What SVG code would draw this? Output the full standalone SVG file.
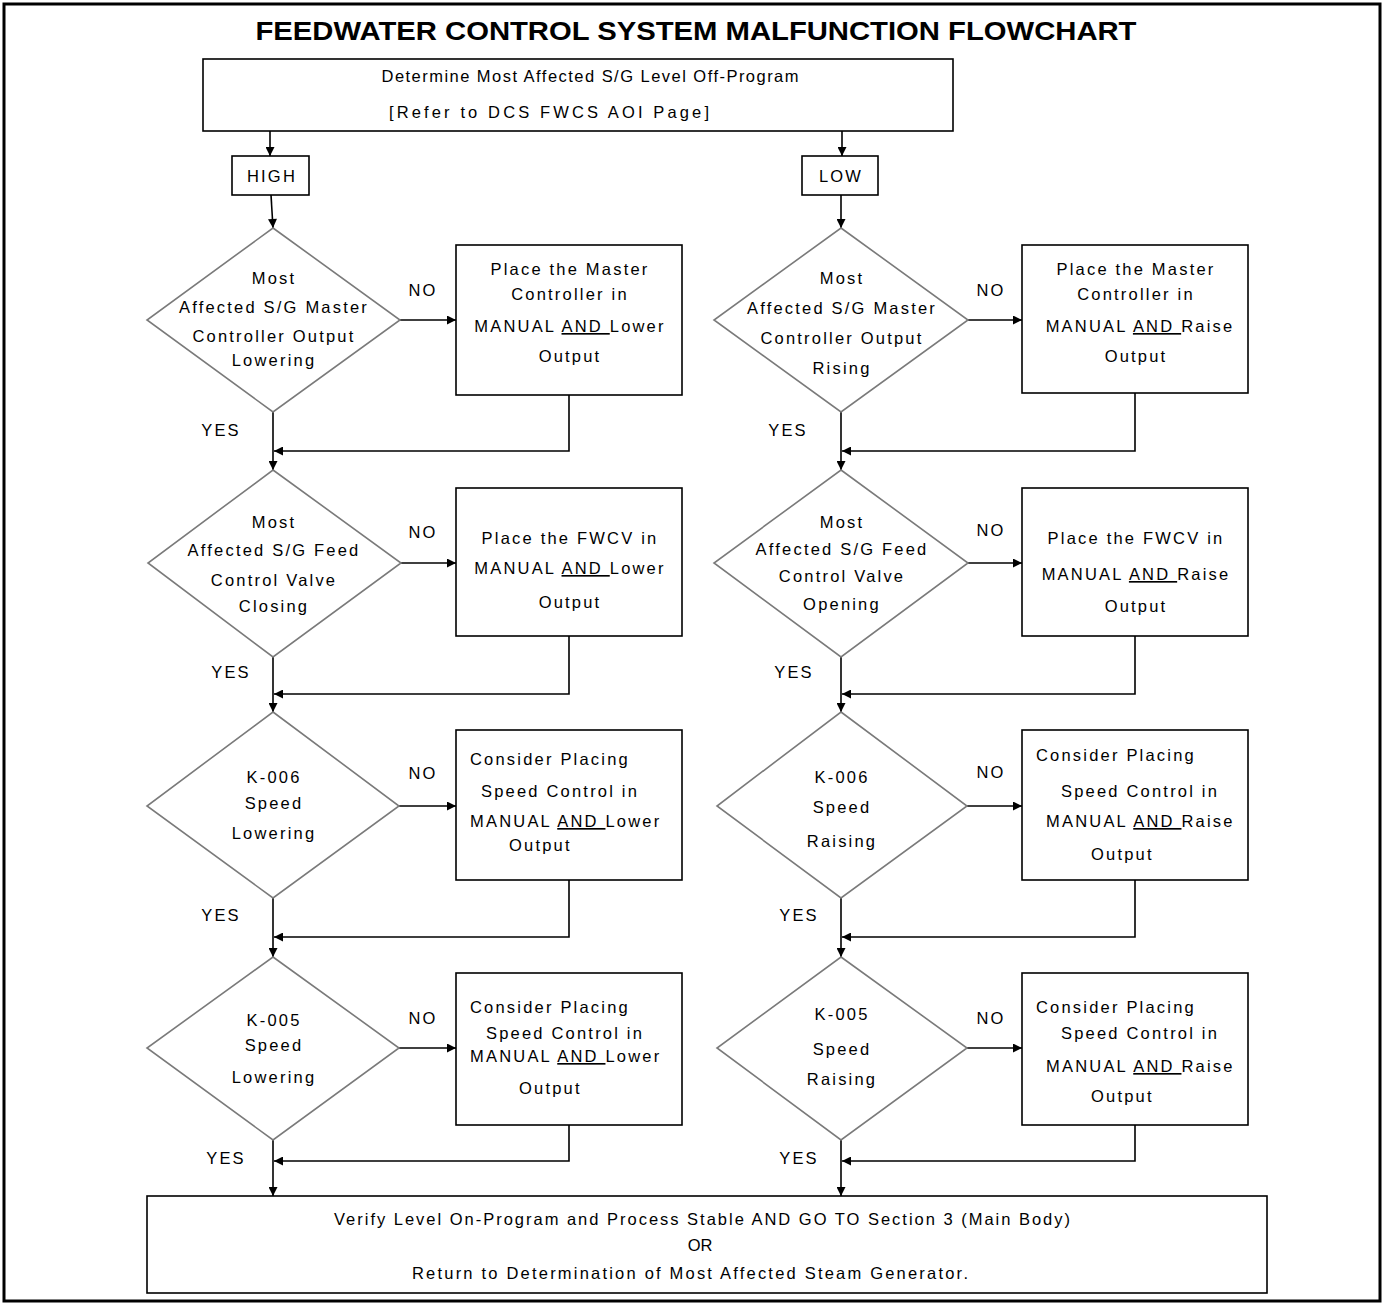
<svg xmlns="http://www.w3.org/2000/svg" width="1386" height="1306" viewBox="0 0 1386 1306">
<style>
text{font-family:"Liberation Sans",Arial,sans-serif;fill:#000}
.t{font-size:16.5px;letter-spacing:2.2px}
.c{text-anchor:middle}
.title{font-size:26px;font-weight:bold;text-anchor:middle}
.box{fill:#fff;stroke:#000;stroke-width:1.6}
.dia{fill:#fff;stroke:#7a7a7a;stroke-width:1.6}
.ln{fill:none;stroke:#000;stroke-width:1.6}
.u{text-decoration:underline}
</style>
<defs>
<marker id="ah" viewBox="0 0 10 10" refX="10" refY="5" markerWidth="10" markerHeight="9" markerUnits="userSpaceOnUse" orient="auto"><path d="M0,0 L10,5 L0,10 z" fill="#000"/></marker>
</defs>
<rect x="0" y="0" width="1386" height="1306" fill="#fff"/>
<rect x="4" y="4" width="1376" height="1297" fill="none" stroke="#000" stroke-width="3"/>
<text class="title" x="696" y="40" textLength="881" lengthAdjust="spacingAndGlyphs">FEEDWATER CONTROL SYSTEM MALFUNCTION FLOWCHART</text>

<g id="connectors">
<line class="ln" x1="270" y1="131" x2="270" y2="156" marker-end="url(#ah)"/>
<line class="ln" x1="842" y1="131" x2="842" y2="156" marker-end="url(#ah)"/>
<line class="ln" x1="271" y1="195" x2="273" y2="228" marker-end="url(#ah)" stroke="#555"/>
<line class="ln" x1="841" y1="195" x2="841" y2="228" marker-end="url(#ah)"/>
<line class="ln" x1="400" y1="320" x2="456" y2="320" marker-end="url(#ah)"/>
<line class="ln" x1="273" y1="412" x2="273" y2="470" marker-end="url(#ah)"/>
<polyline class="ln" points="569,395 569,451 274,451" marker-end="url(#ah)"/>
<line class="ln" x1="401" y1="563" x2="456" y2="563" marker-end="url(#ah)"/>
<line class="ln" x1="273" y1="657" x2="273" y2="712" marker-end="url(#ah)"/>
<polyline class="ln" points="569,636 569,694 274,694" marker-end="url(#ah)"/>
<line class="ln" x1="399" y1="806" x2="456" y2="806" marker-end="url(#ah)"/>
<line class="ln" x1="273" y1="898" x2="273" y2="957" marker-end="url(#ah)"/>
<polyline class="ln" points="569,880 569,937 274,937" marker-end="url(#ah)"/>
<line class="ln" x1="399" y1="1048" x2="456" y2="1048" marker-end="url(#ah)"/>
<line class="ln" x1="273" y1="1140" x2="273" y2="1196" marker-end="url(#ah)"/>
<polyline class="ln" points="569,1125 569,1161 274,1161" marker-end="url(#ah)"/>
<line class="ln" x1="968" y1="320" x2="1022" y2="320" marker-end="url(#ah)"/>
<line class="ln" x1="841" y1="412" x2="841" y2="470" marker-end="url(#ah)"/>
<polyline class="ln" points="1135,393 1135,451 842,451" marker-end="url(#ah)"/>
<line class="ln" x1="968" y1="563" x2="1022" y2="563" marker-end="url(#ah)"/>
<line class="ln" x1="841" y1="657" x2="841" y2="712" marker-end="url(#ah)"/>
<polyline class="ln" points="1135,636 1135,694 842,694" marker-end="url(#ah)"/>
<line class="ln" x1="967" y1="806" x2="1022" y2="806" marker-end="url(#ah)"/>
<line class="ln" x1="841" y1="898" x2="841" y2="957" marker-end="url(#ah)"/>
<polyline class="ln" points="1135,880 1135,937 842,937" marker-end="url(#ah)"/>
<line class="ln" x1="967" y1="1048" x2="1022" y2="1048" marker-end="url(#ah)"/>
<line class="ln" x1="841" y1="1140" x2="841" y2="1196" marker-end="url(#ah)"/>
<polyline class="ln" points="1135,1125 1135,1161 842,1161" marker-end="url(#ah)"/>
<text class="t c" x="423" y="296">NO</text>
<text class="t c" x="423" y="538">NO</text>
<text class="t c" x="423" y="779">NO</text>
<text class="t c" x="423" y="1024">NO</text>
<text class="t c" x="991" y="296">NO</text>
<text class="t c" x="991" y="536">NO</text>
<text class="t c" x="991" y="778">NO</text>
<text class="t c" x="991" y="1024">NO</text>
<text class="t c" x="221" y="436">YES</text>
<text class="t c" x="231" y="678">YES</text>
<text class="t c" x="221" y="921">YES</text>
<text class="t c" x="226" y="1164">YES</text>
<text class="t c" x="788" y="436">YES</text>
<text class="t c" x="794" y="678">YES</text>
<text class="t c" x="799" y="921">YES</text>
<text class="t c" x="799" y="1164">YES</text>
</g>

<g id="start">
<rect class="box" x="203" y="59" width="750" height="72"/>
<text class="c" font-size="16.5" x="590" y="82" textLength="417">Determine Most Affected S/G Level Off-Program</text>
<text class="c" font-size="16.5" x="549" y="118" textLength="320">[Refer to DCS FWCS AOI Page]</text>
</g>
<g id="high">
<rect class="box" x="232" y="156" width="77" height="39"/>
<text class="t c" x="272" y="182">HIGH</text>
</g>
<g id="low">
<rect class="box" x="802" y="156" width="76" height="39"/>
<text class="t c" x="841" y="182">LOW</text>
</g>

<g id="d1l">
<polygon class="dia" points="273,228 400,320 273,412 147,320"/>
<text class="t c" x="274" y="284">Most</text>
<text class="t c" x="274" y="313">Affected S/G Master</text>
<text class="t c" x="274" y="342">Controller Output</text>
<text class="t c" x="274" y="366">Lowering</text>
</g>
<g id="b1l">
<rect class="box" x="456" y="245" width="226" height="150"/>
<text class="t c" x="570" y="275">Place the Master</text>
<text class="t c" x="570" y="300">Controller in</text>
<text class="t c" x="570" y="332">MANUAL <tspan class="u">AND </tspan>Lower</text>
<text class="t c" x="570" y="362">Output</text>
</g>
<g id="d2l">
<polygon class="dia" points="273,470 401,563 273,657 148,563"/>
<text class="t c" x="274" y="528">Most</text>
<text class="t c" x="274" y="556">Affected S/G Feed</text>
<text class="t c" x="274" y="586">Control Valve</text>
<text class="t c" x="274" y="612">Closing</text>
</g>
<g id="b2l">
<rect class="box" x="456" y="488" width="226" height="148"/>
<text class="t c" x="570" y="544">Place the FWCV in</text>
<text class="t c" x="570" y="574">MANUAL <tspan class="u">AND </tspan>Lower</text>
<text class="t c" x="570" y="608">Output</text>
</g>
<g id="d3l">
<polygon class="dia" points="273,712 399,806 273,898 147,806"/>
<text class="t c" x="274" y="783">K-006</text>
<text class="t c" x="274" y="809">Speed</text>
<text class="t c" x="274" y="839">Lowering</text>
</g>
<g id="b3l">
<rect class="box" x="456" y="730" width="226" height="150"/>
<text class="t" x="470" y="765">Consider Placing</text>
<text class="t" x="481" y="797">Speed Control in</text>
<text class="t" x="470" y="827">MANUAL <tspan class="u">AND </tspan>Lower</text>
<text class="t" x="509" y="851">Output</text>
</g>
<g id="d4l">
<polygon class="dia" points="273,957 399,1048 273,1140 147,1048"/>
<text class="t c" x="274" y="1026">K-005</text>
<text class="t c" x="274" y="1051">Speed</text>
<text class="t c" x="274" y="1083">Lowering</text>
</g>
<g id="b4l">
<rect class="box" x="456" y="973" width="226" height="152"/>
<text class="t" x="470" y="1013">Consider Placing</text>
<text class="t" x="486" y="1039">Speed Control in</text>
<text class="t" x="470" y="1062">MANUAL <tspan class="u">AND </tspan>Lower</text>
<text class="t" x="519" y="1094">Output</text>
</g>

<g id="d1r">
<polygon class="dia" points="841,228 968,320 841,412 714,320"/>
<text class="t c" x="842" y="284">Most</text>
<text class="t c" x="842" y="314">Affected S/G Master</text>
<text class="t c" x="842" y="344">Controller Output</text>
<text class="t c" x="842" y="374">Rising</text>
</g>
<g id="b1r">
<rect class="box" x="1022" y="245" width="226" height="148"/>
<text class="t c" x="1136" y="275">Place the Master</text>
<text class="t c" x="1136" y="300">Controller in</text>
<text class="t c" x="1140" y="332">MANUAL <tspan class="u">AND </tspan>Raise</text>
<text class="t c" x="1136" y="362">Output</text>
</g>
<g id="d2r">
<polygon class="dia" points="841,470 968,563 841,657 714,563"/>
<text class="t c" x="842" y="528">Most</text>
<text class="t c" x="842" y="555">Affected S/G Feed</text>
<text class="t c" x="842" y="582">Control Valve</text>
<text class="t c" x="842" y="610">Opening</text>
</g>
<g id="b2r">
<rect class="box" x="1022" y="488" width="226" height="148"/>
<text class="t c" x="1136" y="544">Place the FWCV in</text>
<text class="t c" x="1136" y="580">MANUAL <tspan class="u">AND </tspan>Raise</text>
<text class="t c" x="1136" y="612">Output</text>
</g>
<g id="d3r">
<polygon class="dia" points="841,712 967,806 841,898 717,806"/>
<text class="t c" x="842" y="783">K-006</text>
<text class="t c" x="842" y="813">Speed</text>
<text class="t c" x="842" y="847">Raising</text>
</g>
<g id="b3r">
<rect class="box" x="1022" y="730" width="226" height="150"/>
<text class="t" x="1036" y="761">Consider Placing</text>
<text class="t" x="1061" y="797">Speed Control in</text>
<text class="t" x="1046" y="827">MANUAL <tspan class="u">AND </tspan>Raise</text>
<text class="t" x="1091" y="860">Output</text>
</g>
<g id="d4r">
<polygon class="dia" points="841,957 967,1048 841,1140 717,1048"/>
<text class="t c" x="842" y="1020">K-005</text>
<text class="t c" x="842" y="1055">Speed</text>
<text class="t c" x="842" y="1085">Raising</text>
</g>
<g id="b4r">
<rect class="box" x="1022" y="973" width="226" height="152"/>
<text class="t" x="1036" y="1013">Consider Placing</text>
<text class="t" x="1061" y="1039">Speed Control in</text>
<text class="t" x="1046" y="1072">MANUAL <tspan class="u">AND </tspan>Raise</text>
<text class="t" x="1091" y="1102">Output</text>
</g>

<g id="end">
<rect class="box" x="147" y="1196" width="1120" height="97"/>
<text class="c" font-size="16.5" x="702" y="1225" textLength="736">Verify Level On-Program and Process Stable AND GO TO Section 3 (Main Body)</text>
<text class="c" font-size="16.5" x="700" y="1251">OR</text>
<text class="c" font-size="16.5" x="690" y="1279" textLength="556">Return to Determination of Most Affected Steam Generator.</text>
</g>
</svg>
